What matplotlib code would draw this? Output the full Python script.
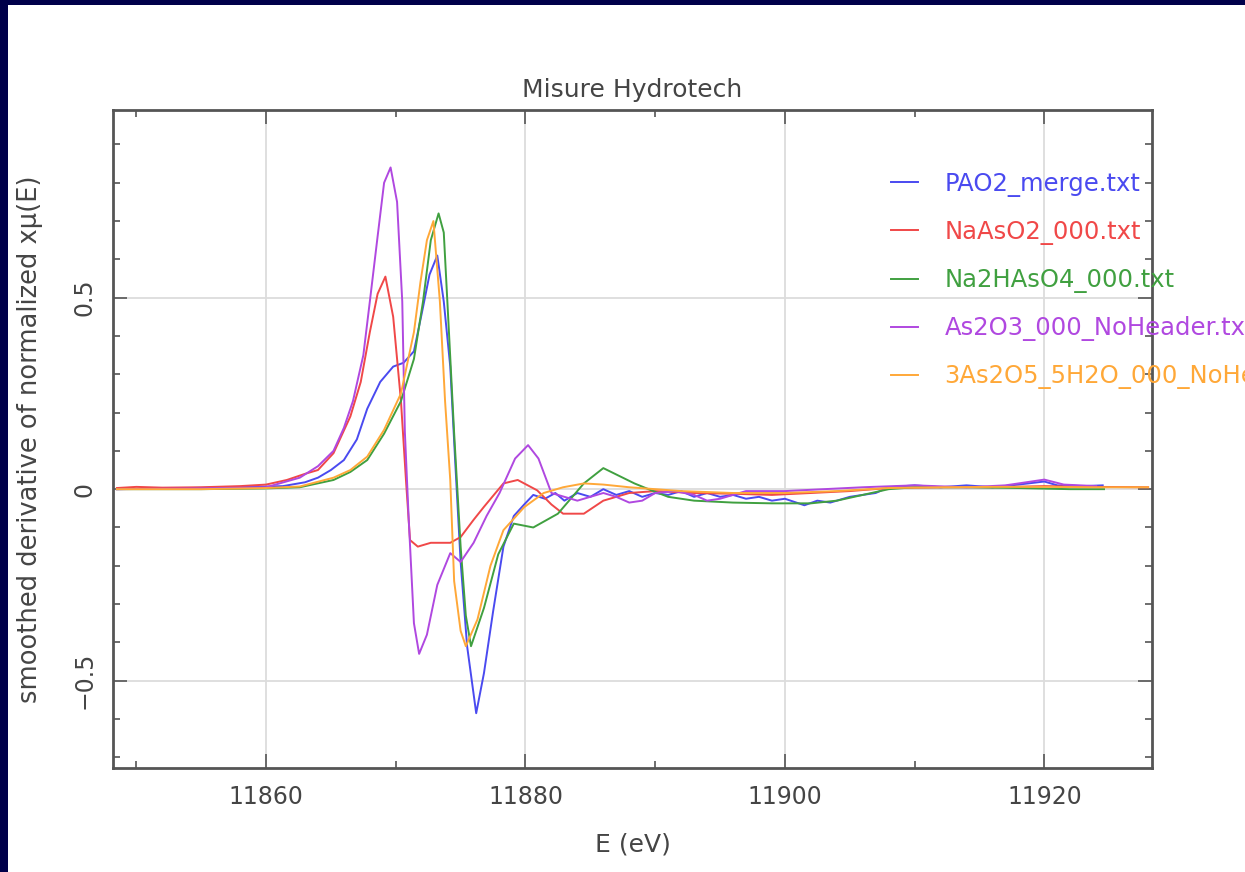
import numpy as np
import matplotlib
matplotlib.use("Agg")
import matplotlib.pyplot as plt
from matplotlib.ticker import MultipleLocator

# readings from the picture (E in eV, smoothed derivative)
pao2_e = [11848.5, 11852, 11856, 11859, 11861.3, 11863, 11864, 11865, 11866, 11867,
          11867.8, 11868.8, 11869.8, 11870.6, 11871.4, 11872.1, 11872.6, 11873.2, 11873.7, 11874.2,
          11874.6, 11875.0, 11875.5, 11876.2, 11876.8, 11877.5, 11878.3, 11879.1, 11879.9, 11880.6,
          11881.5, 11882.3, 11883, 11884, 11885, 11886, 11887, 11888, 11889, 11890,
          11891, 11892, 11893, 11894, 11895, 11896, 11897, 11898, 11899, 11900,
          11901.5, 11902.5, 11903.5, 11905, 11907, 11908, 11910, 11912, 11914, 11916,
          11918, 11920, 11921, 11923, 11924.5]
pao2_y = [0.0, 0.002, 0.004, 0.006, 0.008, 0.018, 0.03, 0.05, 0.076, 0.13,
          0.21, 0.28, 0.32, 0.33, 0.36, 0.475, 0.56, 0.61, 0.49, 0.32,
          0.06, -0.19, -0.41, -0.585, -0.48, -0.32, -0.15, -0.07, -0.04, -0.015,
          -0.025, -0.01, -0.03, -0.01, -0.02, 0.0, -0.015, -0.005, -0.02, -0.01,
          -0.015, -0.005, -0.02, -0.01, -0.02, -0.015, -0.025, -0.02, -0.03, -0.025,
          -0.042, -0.03, -0.035, -0.02, -0.01, 0.005, 0.01, 0.005, 0.01, 0.005,
          0.012, 0.02, 0.01, 0.008, 0.01]

naaso2_e = [11848.5, 11850, 11852, 11855, 11858, 11860, 11861.6, 11863, 11864, 11865.2,
            11866.5, 11867.3, 11868, 11868.6, 11869.2, 11869.8, 11870.4, 11870.8, 11871.1, 11871.7,
            11872.7, 11874.2, 11875, 11876, 11876.8, 11878.3, 11879.4, 11880.9, 11882, 11882.9,
            11884.5, 11886, 11888, 11890, 11893, 11896, 11899, 11902, 11905, 11908,
            11912, 11916, 11920, 11924, 11928]
naaso2_y = [0.003, 0.006, 0.004, 0.005, 0.008, 0.012, 0.024, 0.04, 0.05, 0.094,
            0.19, 0.28, 0.41, 0.51, 0.555, 0.45, 0.23, 0.016, -0.133, -0.15,
            -0.14, -0.14, -0.125, -0.08, -0.046, 0.015, 0.024, -0.003, -0.04, -0.064,
            -0.064, -0.03, -0.01, -0.005, -0.01, -0.012, -0.015, -0.01, -0.005, 0.003,
            0.005, 0.005, 0.008, 0.006, 0.005]

na2haso4_e = [11848.5, 11855, 11860, 11862.6, 11865.2, 11866.5, 11867.8, 11869.1, 11870.4, 11871.4,
              11872.1, 11872.7, 11873.3, 11873.7, 11874.1, 11874.5, 11875.0, 11875.4, 11875.8, 11876.8,
              11877.9, 11879.1, 11880.6, 11882.5, 11884.5, 11886, 11888.4, 11889.7, 11891, 11893,
              11896, 11899, 11902, 11904, 11906, 11908, 11910, 11914, 11918, 11922, 11924.6]
na2haso4_y = [0.0, 0.0, 0.002, 0.005, 0.024, 0.045, 0.076, 0.145, 0.23, 0.34,
              0.49, 0.65, 0.72, 0.67, 0.41, 0.146, -0.15, -0.33, -0.41, -0.31,
              -0.17, -0.09, -0.10, -0.064, 0.015, 0.055, 0.015, -0.003, -0.02, -0.03,
              -0.035, -0.037, -0.037, -0.03, -0.015, 0.0, 0.005, 0.005, 0.003, 0.0, 0.0]

as2o3_e = [11848.5, 11855, 11860, 11862.6, 11864, 11865.2, 11866.0, 11866.7, 11867.5, 11868.0,
           11868.6, 11869.1, 11869.6, 11870.1, 11870.5, 11870.7, 11871.0, 11871.4, 11871.8, 11872.4,
           11873.2, 11874.2, 11875, 11876, 11877, 11878, 11879.2, 11880.2, 11881, 11882,
           11883, 11884, 11885, 11886, 11887, 11888, 11889, 11890, 11891.5, 11893,
           11894, 11895, 11897, 11900, 11903, 11906, 11910, 11914, 11917, 11920,
           11921.5, 11924]
as2o3_y = [0.0, 0.002, 0.005, 0.03, 0.06, 0.10, 0.16, 0.23, 0.35, 0.49,
           0.66, 0.80, 0.84, 0.75, 0.49, 0.15, -0.08, -0.35, -0.43, -0.38,
           -0.25, -0.167, -0.19, -0.14, -0.07, -0.01, 0.08, 0.115, 0.08, -0.01,
           -0.02, -0.03, -0.02, -0.01, -0.02, -0.035, -0.03, -0.01, -0.005, -0.015,
           -0.03, -0.025, -0.005, -0.005, 0.0, 0.005, 0.01, 0.005, 0.01, 0.025,
           0.012, 0.008]

as2o5_e = [11848.5, 11855, 11860, 11862.6, 11865.2, 11866.5, 11867.8, 11869.1, 11870.4, 11871.4,
           11871.9, 11872.4, 11872.9, 11873.4, 11873.8, 11874.2, 11874.5, 11875.0, 11875.4, 11876.3,
           11877.3, 11878.3, 11879.9, 11881.4, 11882.9, 11884.5, 11886, 11888, 11892, 11896,
           11900, 11904, 11908, 11912, 11916, 11920, 11924, 11928]
as2o5_y = [0.0, 0.0, 0.003, 0.007, 0.03, 0.05, 0.085, 0.155, 0.25, 0.41,
           0.54, 0.65, 0.70, 0.49, 0.23, 0.024, -0.24, -0.37, -0.41, -0.34,
           -0.2, -0.107, -0.047, -0.01, 0.005, 0.015, 0.012, 0.005, -0.005, -0.01,
           -0.01, -0.005, 0.003, 0.005, 0.006, 0.006, 0.005, 0.005]

labels = ["PAO2_merge.txt", "NaAsO2_000.txt", "Na2HAsO4_000.txt",
          "As2O3_000_NoHeader.txt", "3As2O5_5H2O_000_NoHeader.txt"]
colors = ["#4a4af0", "#f04848", "#40a040", "#b048e0", "#ffa838"]

fig = plt.figure(figsize=(12.45, 8.72), dpi=100, facecolor="#00004a")
# white panel inside the navy slide border
fig.patches.append(plt.Rectangle((8 / 1245, 0), 1, 1 - 5 / 872, transform=fig.transFigure,
                                 facecolor="white", edgecolor="none", zorder=-10))

ax = fig.add_axes([113 / 1245, 104 / 872, 1039 / 1245, 658 / 872])
ax.set_zorder(5)
series = [(pao2_e, pao2_y), (naaso2_e, naaso2_y), (na2haso4_e, na2haso4_y),
          (as2o3_e, as2o3_y), (as2o5_e, as2o5_y)]
for (e, y), lab, c in zip(series, labels, colors):
    ax.plot(e, y, color=c, lw=1.4, label=lab)

ax.set_xlim(11848.2, 11928.3)
ax.set_ylim(-0.728, 0.99)
ax.xaxis.set_major_locator(MultipleLocator(20))
ax.xaxis.set_minor_locator(MultipleLocator(10))
ax.yaxis.set_major_locator(MultipleLocator(0.5))
ax.yaxis.set_minor_locator(MultipleLocator(0.1))
ax.grid(True, which="major", color="#dcdcdc", lw=1.3)
ax.set_axisbelow(True)

txt = "#454545"
for s in ax.spines.values():
    s.set_color("#555555")
    s.set_linewidth(2)
ax.tick_params(which="both", direction="in", top=True, right=True, colors="#555555",
               labelcolor=txt, labelsize=17)
ax.tick_params(which="major", length=10, width=1.2, pad=12)
ax.tick_params(which="minor", length=5, width=1.2)
ax.tick_params(axis="y", labelrotation=90)
ax.set_yticks([-0.5, 0, 0.5])
ax.set_yticklabels(["\u22120.5", "0", "0.5"], va="center")

ax.set_title("Misure Hydrotech", fontsize=18, color=txt, pad=9)
ax.set_xlabel("E (eV)", fontsize=18, color=txt, labelpad=17)
ax.set_ylabel("smoothed derivative of normalized x\u03bc(E)", fontsize=18.5, color=txt, labelpad=21)

leg = ax.legend(loc="upper left", bbox_to_anchor=(0.749, 0.906), frameon=False,
                fontsize=17.5, handlelength=1.1, handletextpad=1.1, labelspacing=0.95,
                borderaxespad=0, borderpad=0, labelcolor="linecolor")

fig.savefig("out.png", dpi=100, facecolor=fig.get_facecolor())
